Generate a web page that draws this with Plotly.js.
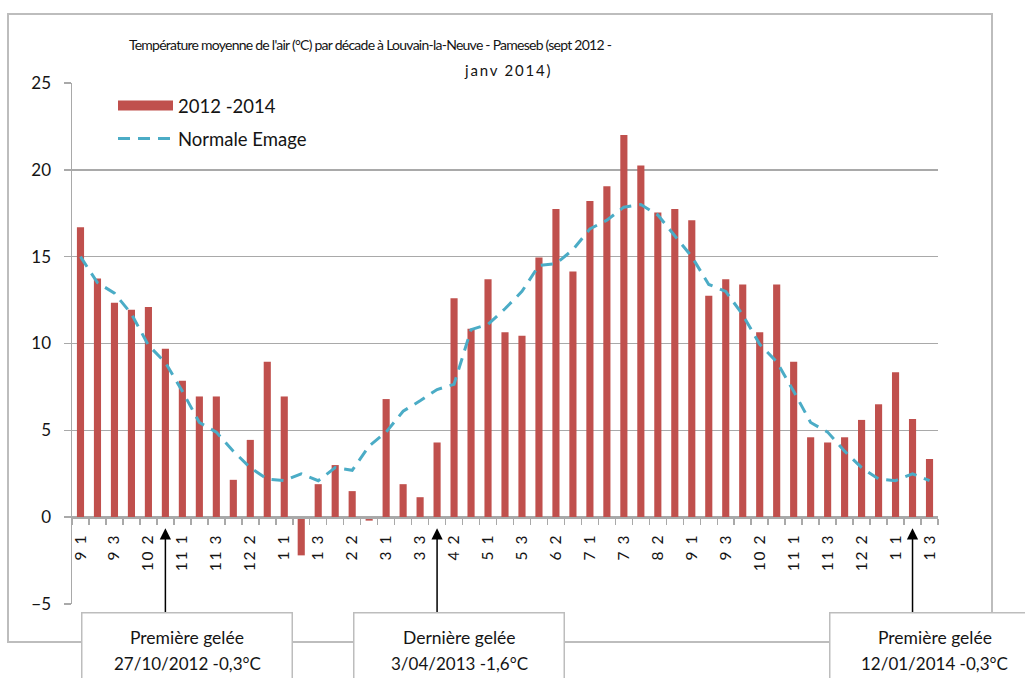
<!DOCTYPE html>
<html>
<head>
<meta charset="utf-8">
<script src="https://cdn.plot.ly/plotly-3.0.1.min.js"></script>
<style>
html,body{margin:0;padding:0;background:#fff;}
#chart{width:1025px;height:678px;}
#chart .gtitle{letter-spacing:-0.75px;}
#chart g.annotation[data-index="0"] text{letter-spacing:1.8px;}
#chart .xtick text{letter-spacing:1.6px;}
</style>
</head>
<body>
<div id="chart"></div>
<script>
// ---- data ----
const categories = ['9 1','9 2','9 3','10 1','10 2','10 3','11 1','11 2','11 3','12 1','12 2','12 3',
  '1 1','1 2','1 3','2 1','2 2','2 3','3 1','3 2','3 3','4 1','4 2','4 3','5 1','5 2','5 3',
  '6 1','6 2','6 3','7 1','7 2','7 3','8 1','8 2','8 3','9 1','9 2','9 3','10 1','10 2','10 3',
  '11 1','11 2','11 3','12 1','12 2','12 3','1 1','1 2','1 3'];
const temp20122014 = [16.7, 13.75, 12.35, 11.95, 12.1, 9.7, 7.85, 6.95, 6.95, 2.15, 4.45, 8.95,
  6.95, -2.2, 1.9, 3.0, 1.5, -0.2, 6.8, 1.9, 1.15, 4.3, 12.6, 10.85, 13.7, 10.65, 10.45,
  14.95, 17.75, 14.15, 18.2, 19.05, 22.0, 20.25, 17.55, 17.75, 17.1, 12.75, 13.7, 13.4, 10.65, 13.4,
  8.95, 4.6, 4.3, 4.6, 5.6, 6.5, 8.35, 5.65, 3.35];
const normaleEmage = [15.0, 13.5, 12.9, 11.7, 9.9, 8.9, 7.25, 5.45, 4.9, 3.8, 2.85, 2.2,
  2.1, 2.5, 2.1, 2.85, 2.7, 4.1, 4.9, 6.1, 6.7, 7.35, 7.65, 10.8, 11.1, 12.0, 13.0,
  14.5, 14.6, 15.4, 16.6, 17.1, 17.85, 18.0, 17.4, 16.2, 15.0, 13.4, 13.0, 11.65, 9.95, 8.95,
  7.25, 5.45, 4.9, 3.8, 2.85, 2.2, 2.1, 2.5, 2.1];
const seriesNames = ['2012 -2014', 'Normale Emage'];
const yTicks = [-5, 0, 5, 10, 15, 20, 25];
const frostDekad = [5, 21, 49];
const frostTitles = ['Première gelée', 'Dernière gelée', 'Première gelée'];
const frostDetails = ['27/10/2012 -0,3°C', '3/04/2013 -1,6°C', '12/01/2014 -0,3°C'];
const titleLine1 = "Température moyenne de l'air (°C) par décade à Louvain-la-Neuve - Pameseb (sept 2012 -";
const titleLine2 = 'janv 2014)';

// ---- geometry helpers (layout only) ----
const W = 1025, H = 678;
const M = {l: 72, r: 87, t: 83, b: 74};
const plotW = W - M.l - M.r, plotH = H - M.t - M.b;
const px2x = px => (px - M.l) / plotW;
const px2y = py => (H - M.b - py) / plotH;

const xIdx = categories.map((c, i) => i);
const tickIdx = xIdx.filter(i => i % 2 === 0);
const tickText = tickIdx.map(i => categories[i]);
const yMin = yTicks[0], yMax = yTicks[yTicks.length - 1];

const FONT = 'Lato, "Open Sans", sans-serif';
const TXT = '#141414';
const GRID = '#a9a9a9';
const RED = '#C0504D';
const BLUE = '#4BACC6';

const traces = [
  {
    type: 'bar', x: xIdx, y: temp20122014, name: seriesNames[0],
    marker: {color: RED}, showlegend: false, legendgroup: 'a', hoverinfo: 'x+y'
  },
  {
    type: 'scatter', mode: 'lines', x: [null], y: [null], name: seriesNames[0],
    line: {color: RED, width: 10}, legendgroup: 'a', hoverinfo: 'skip'
  },
  {
    type: 'scatter', mode: 'lines', x: xIdx, y: normaleEmage, name: seriesNames[1],
    line: {color: BLUE, width: 3, dash: '12px,8px'}, legendgroup: 'b'
  }
];

const annotations = [
  {
    text: titleLine2, xref: 'paper', yref: 'paper', x: px2x(508), y: px2y(70),
    xanchor: 'center', yanchor: 'middle', showarrow: false,
    font: {family: FONT, size: 15, color: TXT}
  }
];
frostDekad.forEach((d, k) => {
  annotations.push({
    text: ' ', xref: 'x', yref: 'y', x: d, y: 0, yshift: -11,
    ax: 0, ay: 100, axref: 'pixel', ayref: 'pixel',
    showarrow: true, arrowhead: 2, arrowsize: 1.5, arrowwidth: 1.5, arrowcolor: '#000',
    font: {size: 10}
  });
});
frostDekad.forEach((d, k) => {
  annotations.push({
    text: ' ', xref: 'x', yref: 'paper', x: d, xshift: 22, y: px2y(612),
    xanchor: 'center', yanchor: 'top', showarrow: false,
    width: 209, height: 90, borderwidth: 1.5, bordercolor: '#bdbdbd', bgcolor: '#ffffff', borderpad: 0
  });
  annotations.push({
    text: frostTitles[k], xref: 'x', yref: 'paper', x: d, xshift: 22, y: px2y(637),
    xanchor: 'center', yanchor: 'middle', showarrow: false,
    font: {family: FONT, size: 17.5, color: TXT}
  });
  annotations.push({
    text: frostDetails[k], xref: 'x', yref: 'paper', x: d, xshift: 22, y: px2y(663),
    xanchor: 'center', yanchor: 'middle', showarrow: false,
    font: {family: FONT, size: 17, color: TXT}
  });
});

const layout = {
  width: W, height: H,
  margin: M,
  paper_bgcolor: '#ffffff', plot_bgcolor: '#ffffff',
  font: {family: FONT, color: TXT},
  title: {
    text: titleLine1, xref: 'paper', x: px2x(370), xanchor: 'center',
    yref: 'container', y: 1 - 45 / H, yanchor: 'middle',
    font: {family: FONT, size: 14, color: TXT}
  },
  bargap: 0.58,
  showlegend: true,
  legend: {
    x: px2x(113), y: px2y(87), xanchor: 'left', yanchor: 'top',
    bgcolor: 'rgba(0,0,0,0)', borderwidth: 0,
    font: {family: FONT, size: 18.5, color: TXT},
    itemwidth: 55, tracegroupgap: 6, traceorder: 'grouped'
  },
  xaxis: {
    range: [-0.5, categories.length - 0.5],
    anchor: 'free', position: (0 - yMin) / (yMax - yMin),
    showline: true, linecolor: GRID, linewidth: 1.5,
    showgrid: false, zeroline: false,
    tickmode: 'array', tickvals: tickIdx, ticktext: tickText,
    ticks: '', tickangle: -90, ticklabelstandoff: 9,
    tickfont: {family: FONT, size: 15.5, color: TXT},
    minor: {tickmode: 'linear', tick0: -0.5, dtick: 1, ticks: 'outside', ticklen: 6,
            tickwidth: 1.5, tickcolor: GRID, showgrid: false}
  },
  yaxis: {
    range: [yMin, yMax], tickmode: 'array', tickvals: yTicks,
    showline: true, linecolor: GRID, linewidth: 1.5,
    showgrid: true, gridcolor: GRID, gridwidth: 1.5, zeroline: false,
    ticks: 'outside', ticklen: 7, tickwidth: 1.5, tickcolor: GRID,
    ticklabelstandoff: 9,
    tickfont: {family: FONT, size: 17, color: TXT}
  },
  shapes: [
    {type: 'rect', xref: 'paper', yref: 'paper', layer: 'below',
     x0: px2x(8), x1: px2x(992), y0: px2y(642), y1: px2y(14),
     line: {color: '#bdbdbd', width: 2}, fillcolor: 'rgba(0,0,0,0)'}
  ],
  annotations: annotations
};

Plotly.newPlot('chart', traces, layout, {displayModeBar: false, staticPlot: true});
</script>
</body>
</html>
